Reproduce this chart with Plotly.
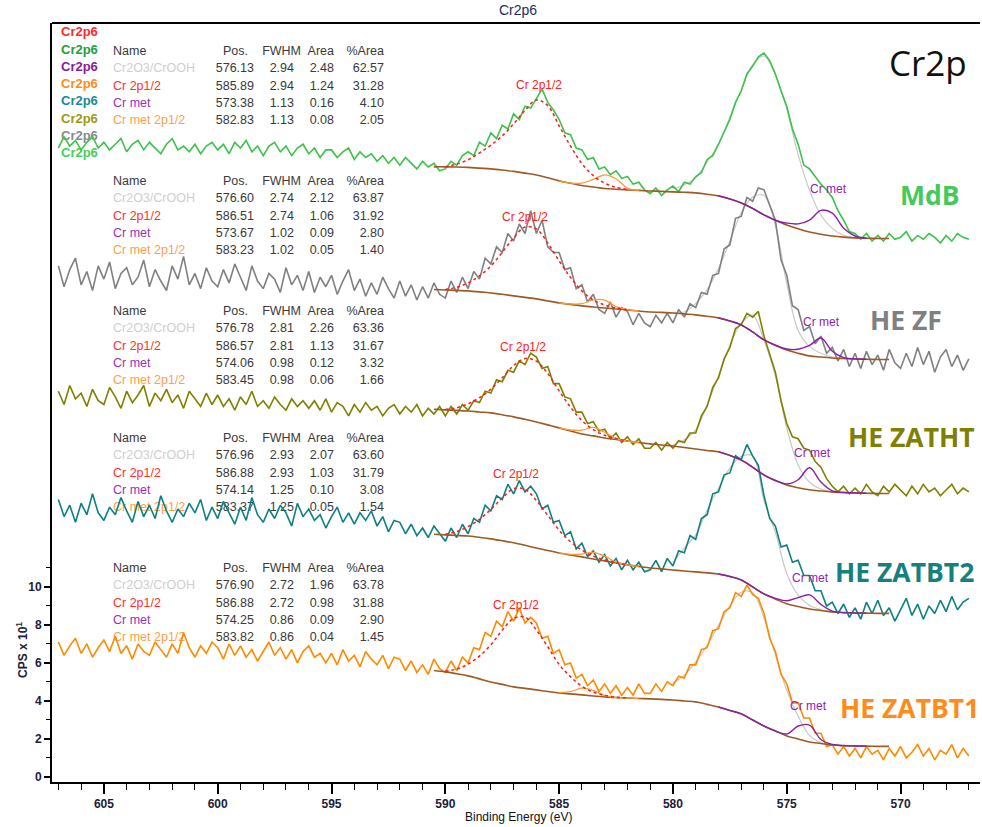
import numpy as np
import plotly.graph_objects as go

# ---------------------------------------------------------------- page / axes
W, H = 982, 827
L, R, T, B = 52, 2, 23, 45
X0, X1 = 607.28, 566.51          # binding energy, high -> low
Y0, Y1 = -0.267, 39.68           # CPS x 10^1 (stacked spectra)


def ex(px):
    """horizontal page pixel -> binding energy"""
    return X0 + (px - L) * (X1 - X0) / (W - L - R)


def ey(py):
    """vertical page pixel -> intensity"""
    return Y1 - (py - T) * (Y1 - Y0) / (H - T - B)


def pxp(px):
    return (px - L) / (W - L - R)


def pyp(py):
    return 1 - (py - T) / (H - T - B)


# ---------------------------------------------------------------- samples
samples = ["MdB", "HE ZF", "HE ZATHT", "HE ZATBT2", "HE ZATBT1"]
sample_colors = ["#3dc24b", "#808080", "#808000", "#0e8080", "#ff8a00"]
label_colors = ["#45c95a", "#808080", "#808000", "#168080", "#ff8c1a"]

# raw spectra, 0.25 eV steps from 607.0 down to 567.0 eV
energy = np.round(np.arange(607.0, 566.99, -0.25), 2)

mdb = [
    33.1, 33.7, 33.2, 33.5, 33.0, 33.4, 33.7, 33.1, 33.4, 33.0, 33.3, 33.6,
    32.9, 33.3, 33.5, 33.0, 33.4, 33.1, 32.8, 33.3, 33.6, 33.0, 33.2, 32.9,
    33.3, 32.8, 33.2, 33.4, 33.0, 33.3, 32.8, 33.4, 33.1, 33.5, 32.9, 33.2,
    32.7, 33.2, 33.4, 32.9, 33.2, 32.7, 33.1, 33.3, 32.8, 33.1, 32.6, 33.0,
    33.0, 32.6, 32.9, 33.1, 32.5, 32.9, 32.6, 32.8, 32.4, 32.7, 32.3, 32.6,
    32.2, 32.6, 32.3, 32.0, 32.4, 32.1, 32.3, 31.9, 32.0, 32.4, 32.2, 32.7,
    32.9, 32.7, 33.4, 33.2, 33.9, 33.6, 34.3, 34.1, 34.9, 34.6, 35.3, 35.2,
    35.7, 36.2, 35.5, 35.1, 34.6, 33.9, 33.8, 33.1, 33.0, 32.5, 32.6, 32.0,
    32.1, 31.7, 31.9, 31.5, 31.6, 31.2, 31.3, 30.9, 30.7, 31.0, 30.6, 30.9,
    31.1, 30.8, 31.3, 31.2, 31.6, 31.8, 32.5, 32.7, 33.3, 34.0, 34.6, 35.5,
    36.1, 37.0, 37.4, 37.9, 38.1, 37.7, 37.0, 36.1, 35.3, 34.1, 33.3, 32.2,
    32.0, 31.6, 31.2, 30.9, 30.5, 29.8, 29.3, 28.7, 28.6, 28.3, 28.6, 28.2,
    28.5, 28.2, 28.6, 28.3, 28.4, 28.7, 28.2, 28.5, 28.3, 28.6, 28.4, 28.1,
    28.5, 28.2, 28.6, 28.4, 28.3,
]
he_zf = [
    26.9, 25.8, 26.7, 27.3, 25.9, 26.6, 25.6, 26.9, 26.2, 27.1, 25.7, 26.5,
    26.8, 25.9, 26.3, 27.2, 25.8, 26.7, 26.1, 25.6, 26.9, 26.2, 27.4, 25.9,
    26.5, 25.7, 26.8, 26.1, 25.8, 26.7, 26.0, 27.0, 26.3, 25.6, 26.9, 26.1,
    25.7, 26.5, 26.2, 25.5, 26.8, 25.9, 26.4, 25.6, 26.6, 25.5, 26.3, 25.8,
    26.4, 25.4, 26.1, 26.7, 25.6, 26.2, 25.3, 26.0, 25.4, 26.3, 25.7, 25.2,
    26.1, 25.3, 25.9, 25.1, 25.8, 25.2, 26.0, 25.4, 25.2, 26.1, 25.5, 26.3,
    25.7, 26.6, 26.2, 27.3, 27.0, 27.9, 27.6, 28.6, 28.2, 29.1, 28.6, 29.8,
    28.6, 29.3, 27.9, 27.6, 27.6, 26.7, 26.8, 25.7, 25.9, 25.0, 25.4, 24.6,
    24.4, 25.0, 24.2, 24.7, 24.5, 23.8, 24.4, 23.9, 23.7, 24.3, 23.9, 24.4,
    23.9, 24.6, 24.2, 24.9, 24.7, 25.5, 25.4, 26.4, 26.5, 27.8, 28.0, 29.4,
    29.5, 30.5, 30.3, 31.0, 30.9, 30.1, 29.3, 27.2, 26.4, 24.8, 24.6, 23.5,
    23.7, 22.8, 23.2, 22.3, 22.6, 21.9, 22.5, 21.6, 22.3, 21.5, 22.4, 21.7,
    22.2, 21.4, 22.5, 21.8, 21.5, 22.3, 21.6, 22.6, 21.7, 22.4, 21.3, 22.1,
    22.5, 21.6, 22.2, 21.4, 22.0,
]
he_zatht = [
    20.3, 19.6, 20.6, 19.9, 20.2, 19.5, 20.4, 19.8, 19.6, 20.5, 20.0, 19.4,
    20.3, 19.7, 20.1, 20.6, 19.5, 20.2, 19.8, 20.4, 19.7, 20.1, 19.4, 20.3,
    19.9, 19.5, 20.2, 19.6, 20.1, 19.5, 19.9, 19.3, 20.0, 19.6, 20.3, 19.5,
    19.8, 19.4, 20.0, 19.6, 19.3, 19.9, 19.5, 19.8, 19.4, 19.8, 19.3, 19.9,
    19.2, 19.7, 19.5, 19.0, 19.6, 19.2, 19.7, 19.3, 19.5, 19.0, 19.4, 19.6,
    19.1, 19.5, 19.2, 19.6, 19.0, 19.4, 19.1, 19.5, 19.0, 19.5, 19.1, 19.6,
    19.3, 19.8, 19.7, 20.3, 20.2, 20.9, 20.8, 21.4, 21.3, 21.9, 21.7, 22.3,
    22.1, 21.5, 21.6, 20.7, 20.7, 20.0, 19.9, 19.2, 19.2, 18.6, 18.7, 18.2,
    18.3, 17.8, 18.1, 17.6, 17.9, 17.5, 17.8, 17.3, 17.3, 17.6, 17.2, 17.6,
    17.3, 17.7, 17.6, 18.1, 18.1, 19.0, 19.5, 20.5, 21.0, 22.0, 22.6, 23.6,
    23.8, 24.4, 24.2, 24.5, 23.2, 22.2, 21.3, 19.8, 18.6, 17.9, 17.8, 17.3,
    17.2, 16.6, 16.3, 15.7, 15.3, 15.0, 15.3, 14.9, 15.2, 14.9, 15.4, 15.0,
    14.8, 15.3, 15.0, 15.4, 15.1, 14.8, 15.3, 14.9, 15.4, 15.0, 15.2, 14.8,
    15.1, 15.4, 14.9, 15.2, 15.0,
]
he_zatbt2 = [
    14.6, 13.7, 14.3, 13.4, 14.4, 13.8, 14.9, 13.9, 13.5, 14.2, 13.8, 14.7,
    14.0, 13.4, 14.5, 13.7, 14.3, 13.6, 14.8, 14.0, 13.4, 14.1, 13.7, 14.4,
    13.9, 14.6, 13.5, 14.2, 13.6, 14.5, 13.9, 13.3, 14.2, 13.5, 14.7, 13.8,
    13.4, 14.1, 13.6, 14.3, 13.9, 13.2, 14.4, 13.7, 14.1, 13.5, 13.8, 13.1,
    13.7, 14.2, 13.4, 13.9, 13.3, 13.9, 13.5, 14.0, 13.2, 13.7, 12.9, 13.5,
    13.4, 12.8, 13.3, 12.7, 13.1, 12.6, 13.2, 12.8, 12.4, 13.1, 12.6, 13.3,
    12.8, 13.6, 13.4, 14.3, 14.0, 14.8, 14.6, 15.4, 14.9, 15.6, 15.0, 15.3,
    14.9, 14.1, 14.3, 13.4, 13.5, 12.7, 12.9, 12.0, 12.3, 11.6, 11.9, 11.3,
    11.7, 11.1, 11.5, 10.9, 11.4, 10.9, 11.3, 10.8, 10.9, 11.4, 10.8, 11.5,
    11.1, 11.9, 11.8, 12.7, 12.5, 13.6, 13.8, 14.9, 15.0, 15.9, 16.0, 16.9,
    16.7, 17.5, 16.9, 16.4, 14.8, 13.6, 13.2, 12.1, 12.2, 11.3, 11.4, 10.6,
    10.6, 9.8, 9.8, 9.0, 9.2, 8.6, 9.1, 8.4, 8.9, 8.3, 9.2, 8.6,
    9.3, 8.5, 8.9, 8.2, 8.8, 9.4, 8.5, 9.1, 8.3, 9.0, 8.6, 9.3,
    8.7, 9.5, 8.8, 9.2, 9.4,
]
he_zatbt1 = [
    7.1, 6.4, 6.9, 7.3, 6.5, 7.0, 6.3, 6.8, 7.2, 6.6, 7.4, 6.5,
    6.9, 6.2, 7.0, 6.6, 6.4, 7.1, 6.7, 6.3, 7.0, 6.5, 7.6, 6.8,
    6.3, 6.9, 6.5, 7.1, 6.8, 6.2, 7.0, 6.4, 6.9, 6.3, 6.7, 6.1,
    6.6, 7.1, 6.4, 6.8, 6.2, 6.7, 6.0, 6.6, 6.9, 6.3, 6.5, 6.0,
    6.5, 5.9, 6.7, 6.1, 6.4, 5.8, 6.6, 6.2, 5.9, 6.4, 5.7, 6.3,
    6.2, 5.6, 6.1, 5.5, 5.9, 5.4, 6.2, 5.7, 5.5, 6.1, 5.6, 6.3,
    6.0, 6.8, 6.7, 7.6, 7.4, 8.2, 7.9, 8.7, 8.2, 8.9, 8.1, 8.4,
    8.1, 7.3, 7.4, 6.5, 6.7, 5.9, 6.0, 5.2, 5.4, 4.8, 5.1, 4.5,
    4.9, 4.4, 4.8, 4.3, 4.7, 4.3, 4.9, 4.4, 4.4, 4.9, 4.5, 5.0,
    4.8, 5.3, 5.2, 5.9, 5.9, 6.7, 6.8, 7.7, 7.8, 8.7, 8.9, 9.7,
    9.5, 10.1, 9.6, 9.4, 8.6, 7.3, 6.6, 5.4, 4.9, 3.9, 3.9, 3.1,
    3.1, 2.3, 2.3, 1.6, 1.7, 1.2, 1.6, 1.1, 1.5, 1.0, 1.6, 1.2,
    1.4, 0.9, 1.5, 1.1, 1.6, 1.0, 1.3, 1.7, 1.1, 1.5, 0.9, 1.4,
    1.2, 1.7, 1.0, 1.5, 1.1,
]
spectra = [mdb, he_zf, he_zatht, he_zatbt2, he_zatbt1]

# ---------------------------------------------------------------- peak fits
# Shirley backgrounds, 0.5 eV steps from 590.5 down to 570.5 eV
fit_energy = np.round(np.arange(590.5, 570.49, -0.5), 2)

bg_mdb = [
    32.11, 32.11, 32.10, 32.08, 32.04, 32.00, 31.94, 31.87, 31.78, 31.68,
    31.53, 31.37, 31.25, 31.13, 31.05, 30.97, 30.93, 30.89, 30.87, 30.84,
    30.82, 30.79, 30.77, 30.74, 30.67, 30.58, 30.42, 30.21, 29.92, 29.58,
    29.30, 29.05, 28.85, 28.68, 28.56, 28.47, 28.41, 28.37, 28.35, 28.34,
    28.34,
]
bg_he_zf = [
    25.65, 25.63, 25.61, 25.58, 25.53, 25.47, 25.40, 25.32, 25.24, 25.16,
    25.05, 24.95, 24.87, 24.79, 24.73, 24.68, 24.63, 24.58, 24.52, 24.47,
    24.45, 24.42, 24.37, 24.32, 24.25, 24.16, 24.00, 23.79, 23.42, 23.00,
    22.72, 22.47, 22.30, 22.16, 22.10, 22.05, 22.02, 22.00, 21.98, 21.97,
    21.97,
]
bg_he_zatht = [
    19.35, 19.32, 19.29, 19.26, 19.21, 19.16, 19.06, 18.95, 18.82, 18.68,
    18.53, 18.37, 18.21, 18.05, 17.95, 17.84, 17.76, 17.68, 17.60, 17.53,
    17.47, 17.42, 17.34, 17.26, 17.18, 17.11, 16.92, 16.68, 16.30, 15.89,
    15.60, 15.37, 15.22, 15.11, 15.05, 15.00, 14.97, 14.95, 14.93, 14.92,
    14.92,
]
bg_he_zatbt2 = [
    12.77, 12.74, 12.71, 12.68, 12.61, 12.53, 12.43, 12.32, 12.19, 12.05,
    11.92, 11.79, 11.68, 11.58, 11.47, 11.37, 11.26, 11.16, 11.08, 11.00,
    10.95, 10.89, 10.84, 10.79, 10.74, 10.68, 10.55, 10.37, 10.00, 9.63,
    9.37, 9.11, 8.97, 8.84, 8.76, 8.68, 8.65, 8.63, 8.62, 8.61,
    8.61,
]
bg_he_zatbt1 = [
    5.60, 5.53, 5.43, 5.32, 5.16, 5.00, 4.87, 4.74, 4.66, 4.58,
    4.50, 4.42, 4.37, 4.32, 4.26, 4.21, 4.18, 4.16, 4.13, 4.11,
    4.08, 4.05, 4.00, 3.95, 3.82, 3.68, 3.50, 3.32, 3.00, 2.68,
    2.42, 2.16, 2.00, 1.84, 1.76, 1.68, 1.65, 1.63, 1.62, 1.61,
    1.61,
]
backgrounds = [bg_mdb, bg_he_zf, bg_he_zatht, bg_he_zatbt2, bg_he_zatbt1]

# component heights above the background (same 0.5 eV grid)
cr2p12_start = 590.0          # Cr 2p1/2, 590.0 -> 582.0 eV
cr2p12_height = [
    [0.0, 0.15, 0.40, 0.80, 1.25, 1.80, 2.50, 3.30, 3.95, 3.80, 2.90, 1.95, 1.15, 0.60, 0.28, 0.10, 0.03],
    [0.02, 0.16, 0.42, 0.84, 1.42, 2.21, 3.05, 3.70, 3.68, 3.05, 2.21, 1.42, 0.79, 0.37, 0.16, 0.05, 0.0],
    [0.02, 0.14, 0.38, 0.75, 1.25, 1.95, 2.70, 3.20, 3.20, 2.70, 1.95, 1.25, 0.70, 0.33, 0.14, 0.05, 0.0],
    [0.03, 0.20, 0.50, 0.95, 1.55, 2.25, 2.85, 2.95, 2.50, 1.85, 1.20, 0.70, 0.35, 0.15, 0.06, 0.02, 0.0],
    [0.04, 0.25, 0.62, 1.20, 1.95, 2.85, 3.60, 3.75, 3.15, 2.35, 1.50, 0.90, 0.45, 0.20, 0.08, 0.02, 0.0],
]
crmet2p12_start = 585.0       # Cr met 2p1/2, 585.0 -> 581.5 eV
crmet2p12_height = [
    [0.0, 0.0, 0.12, 0.40, 0.72, 0.55, 0.10, 0.0],
    [0.0, 0.02, 0.12, 0.38, 0.42, 0.12, 0.02, 0.0],
    [0.0, 0.05, 0.20, 0.45, 0.30, 0.05, 0.0, 0.0],
    [0.0, 0.03, 0.15, 0.35, 0.25, 0.05, 0.0, 0.0],
    [0.02, 0.12, 0.35, 0.30, 0.08, 0.0, 0.0, 0.0],
]
cr2o3_start = 580.0           # Cr2O3/CrOOH, 580.0 -> 571.5 eV
cr2o3_height = [
    [0.16, 0.40, 0.79, 1.70, 2.70, 4.30, 5.95, 7.55, 8.37, 7.65, 6.10, 3.90, 2.20, 1.00, 0.40, 0.10, 0.0, 0.0],
    [0.0, 0.10, 0.60, 1.40, 2.60, 4.20, 5.90, 7.10, 7.60, 6.30, 3.50, 1.20, 0.50, 0.20, 0.05, 0.0, 0.0, 0.0],
    [0.05, 0.40, 1.00, 2.40, 4.00, 5.80, 7.20, 8.00, 7.10, 5.50, 3.00, 1.20, 0.40, 0.10, 0.0, 0.0, 0.0, 0.0],
    [0.40, 1.20, 1.95, 3.30, 4.50, 5.70, 6.50, 6.90, 4.90, 3.50, 1.60, 0.60, 0.20, 0.05, 0.0, 0.0, 0.0, 0.0],
    [0.90, 1.35, 2.10, 3.10, 4.30, 5.50, 6.40, 6.70, 5.70, 4.00, 2.40, 1.20, 0.35, 0.05, 0.0, 0.0, 0.0, 0.0],
]
crmet_start = 578.0           # Cr met, 578.0 -> 571.5 eV
crmet_height = [
    [0.0, 0.0, 0.0, 0.0, 0.0, 0.0, 0.10, 0.26, 0.63, 1.26, 1.20, 0.47, 0.10, 0.0],
    [0.0, 0.0, 0.0, 0.0, 0.0, 0.0, 0.05, 0.21, 0.55, 1.00, 0.35, 0.05, 0.0, 0.0],
    [0.0, 0.0, 0.0, 0.0, 0.0, 0.0, 0.05, 0.42, 1.16, 0.47, 0.05, 0.0, 0.0, 0.0],
    [0.0, 0.0, 0.0, 0.0, 0.0, 0.03, 0.16, 0.47, 0.74, 0.32, 0.05, 0.0, 0.0, 0.0],
    [0.0, 0.0, 0.0, 0.0, 0.0, 0.0, 0.10, 0.68, 0.89, 0.21, 0.03, 0.0, 0.0, 0.0],
]

# fit result tables
component_names = ["Cr2O3/CrOOH", "Cr 2p1/2", "Cr met", "Cr met 2p1/2"]
component_colors = ["#cfcfcf", "#ff3030", "#9a30b8", "#ffa04a"]
fit_pos = [
    [576.13, 585.89, 573.38, 582.83],
    [576.60, 586.51, 573.67, 583.23],
    [576.78, 586.57, 574.06, 583.45],
    [576.96, 586.88, 574.14, 583.37],
    [576.90, 586.88, 574.25, 583.82],
]
fit_fwhm = [
    [2.94, 2.94, 1.13, 1.13],
    [2.74, 2.74, 1.02, 1.02],
    [2.81, 2.81, 0.98, 0.98],
    [2.93, 2.93, 1.25, 1.25],
    [2.72, 2.72, 0.86, 0.86],
]
fit_area = [
    [2.48, 1.24, 0.16, 0.08],
    [2.12, 1.06, 0.09, 0.05],
    [2.26, 1.13, 0.12, 0.06],
    [2.07, 1.03, 0.10, 0.05],
    [1.96, 0.98, 0.09, 0.04],
]
fit_pct = [
    [62.57, 31.28, 4.10, 2.05],
    [63.87, 31.92, 2.80, 1.40],
    [63.36, 31.67, 3.32, 1.66],
    [63.60, 31.79, 3.08, 1.54],
    [63.78, 31.88, 2.90, 1.45],
]
legend_colors = ["#ff2a2a", "#1e9e3a", "#8a1c9a", "#ff8c1a",
                 "#1a8a9a", "#9a9a1a", "#8a8a8a", "#44d05a"]

# ---------------------------------------------------------------- helpers
TXT = "Arial, Liberation Sans, sans-serif"


def on_background(bg, start, heights):
    i0 = int(round((fit_energy[0] - start) / 0.5))
    n = len(heights)
    return fit_energy[i0:i0 + n], np.asarray(bg)[i0:i0 + n] + np.asarray(heights)


def text_trace(xs, ys, texts, colors, position, size=12.5, bold=False):
    return go.Scatter(
        x=xs, y=ys, text=texts, mode="text", textposition=position,
        textfont=dict(family=TXT, size=size, color=colors,
                      weight="bold" if bold else "normal"),
        marker=dict(size=1), hoverinfo="skip", showlegend=False,
    )


fig = go.Figure()

# ---------------------------------------------------------------- tables (under the curves)
row_pitch = 17.25
legend_py = [33 + row_pitch * j for j in range(8)]
fig.add_trace(text_trace([ex(61)] * 8, [ey(p) for p in legend_py], ["Cr2p6"] * 8,
                         legend_colors, "middle right", size=13, bold=True))

table_header_py = [52, 182, 312, 439, 569]
num_dark = "#3a3a3a"
for k in range(5):
    hy = table_header_py[k]
    ry = [ey(hy + row_pitch * (j + 1)) for j in range(4)]
    fig.add_trace(text_trace([ex(113)], [ey(hy)], ["Name"], num_dark, "middle right"))
    fig.add_trace(text_trace([ex(248), ex(301), ex(334), ex(384)], [ey(hy)] * 4,
                             ["Pos.", "FWHM", "Area", "%Area"], num_dark, "middle left"))
    fig.add_trace(text_trace([ex(113)] * 4, ry, component_names, component_colors, "middle right"))
    for col, vals in zip([254, 294, 334, 384],
                         [fit_pos[k], fit_fwhm[k], fit_area[k], fit_pct[k]]):
        fig.add_trace(text_trace([ex(col)] * 4, ry, [f"{v:.2f}" for v in vals],
                                 num_dark, "middle left"))

# ---------------------------------------------------------------- Cr2O3/CrOOH components
for k in range(5):
    x, y = on_background(backgrounds[k], cr2o3_start, cr2o3_height[k])
    fig.add_trace(go.Scatter(x=x, y=y, mode="lines", line=dict(color="#c8c8c8", width=1.2, shape="spline"),
                             hoverinfo="skip", showlegend=False))

# ---------------------------------------------------------------- raw spectra
for k in range(5):
    fig.add_trace(go.Scatter(x=energy, y=spectra[k], mode="lines", name=samples[k],
                             line=dict(color=sample_colors[k], width=1.6),
                             showlegend=False))

# ---------------------------------------------------------------- backgrounds and other components
for k in range(5):
    fig.add_trace(go.Scatter(x=fit_energy, y=backgrounds[k], mode="lines",
                             line=dict(color="#9c5a26", width=1.6, shape="spline"),
                             hoverinfo="skip", showlegend=False))
for k in range(5):
    x, y = on_background(backgrounds[k], crmet_start, crmet_height[k])
    fig.add_trace(go.Scatter(x=x, y=y, mode="lines", line=dict(color="#8a1fa6", width=1.4, shape="spline"),
                             hoverinfo="skip", showlegend=False))
for k in range(5):
    x, y = on_background(backgrounds[k], crmet2p12_start, crmet2p12_height[k])
    fig.add_trace(go.Scatter(x=x, y=y, mode="lines", line=dict(color="#ff9a33", width=1.3, shape="spline"),
                             hoverinfo="skip", showlegend=False))
for k in range(5):
    x, y = on_background(backgrounds[k], cr2p12_start, cr2p12_height[k])
    fig.add_trace(go.Scatter(x=x, y=y, mode="lines",
                             line=dict(color="#ff1a1a", width=1.5, shape="spline", dash="dot"),
                             hoverinfo="skip", showlegend=False))

# ---------------------------------------------------------------- annotations
ann = []
label_2p12_py = [85, 217, 347, 474, 605]
label_met_py = [189, 322, 453, 578, 706]
for k in range(5):
    ann.append(dict(x=fit_pos[k][1], y=ey(label_2p12_py[k]), text="Cr 2p1/2", showarrow=False,
                    font=dict(family=TXT, size=12, color="#ff2020")))
    ann.append(dict(x=fit_pos[k][2] - 0.2, y=ey(label_met_py[k]), text="Cr met", showarrow=False,
                    font=dict(family=TXT, size=12, color="#9420b4")))

name_left_px = [898, 868, 846, 833, 838]
name_py = [195, 320, 437, 572, 708]
for k in range(5):
    ann.append(dict(x=ex(name_left_px[k]), y=ey(name_py[k]), text=samples[k], showarrow=False,
                    xanchor="left", font=dict(family="Open Sans", size=26.5, color=label_colors[k],
                                              weight="bold")))

ann.append(dict(x=ex(887), y=ey(62), text="Cr2p", showarrow=False, xanchor="left",
                font=dict(family="Open Sans", size=35, color="#111111")))

# texts outside the plotting area are placed in paper coordinates
ann.append(dict(xref="paper", yref="paper", x=pxp(518), y=pyp(10), xanchor="center", yanchor="middle",
                text="Cr2p6", showarrow=False, font=dict(family=TXT, size=14, color="#1f2d5a")))
ann.append(dict(xref="paper", yref="paper", x=pxp(518), y=pyp(817), xanchor="center", yanchor="middle",
                text="Binding Energy (eV)", showarrow=False,
                font=dict(family=TXT, size=12, color="#111111")))
ann.append(dict(xref="paper", yref="paper", x=pxp(22), y=pyp(650), xanchor="center", yanchor="middle",
                text="CPS x 10<sup>1</sup>", showarrow=False, textangle=-90,
                font=dict(family=TXT, size=12, color="#1c1c3c", weight="bold")))

fig.update_layout(
    width=W, height=H,
    margin=dict(l=L, r=R, t=T, b=B),
    paper_bgcolor="white", plot_bgcolor="white",
    showlegend=False,
    annotations=ann,
    shapes=[dict(type="line", xref="paper", yref="paper", x0=0, x1=1, y0=1, y1=1,
                 line=dict(color="black", width=2))],
    xaxis=dict(
        range=[X0, X1], showgrid=False, zeroline=False,
        showline=True, linecolor="black", linewidth=2,
        ticks="outside", tickmode="linear", tick0=0, dtick=5,
        ticklen=10, tickwidth=1.5, tickcolor="black",
        tickfont=dict(family=TXT, size=12, color="#1c1c3c", weight="bold"),
        minor=dict(ticks="outside", dtick=1, tick0=0, ticklen=6, tickwidth=1.3, tickcolor="black"),
    ),
    yaxis=dict(
        range=[Y0, Y1], showgrid=False, zeroline=False,
        showline=True, linecolor="black", linewidth=2, mirror=False,
        ticks="outside", tickmode="array", tickvals=[0, 2, 4, 6, 8, 10],
        ticklen=6, tickwidth=1.5, tickcolor="black",
        tickfont=dict(family=TXT, size=12, color="#1c1c3c", weight="bold"),
        minor=dict(ticks="outside", tickmode="array", tickvals=[1, 3, 5, 7, 9, 11],
                   ticklen=4, tickwidth=1.2, tickcolor="black"),
    ),
)

fig.write_html("out.html")
